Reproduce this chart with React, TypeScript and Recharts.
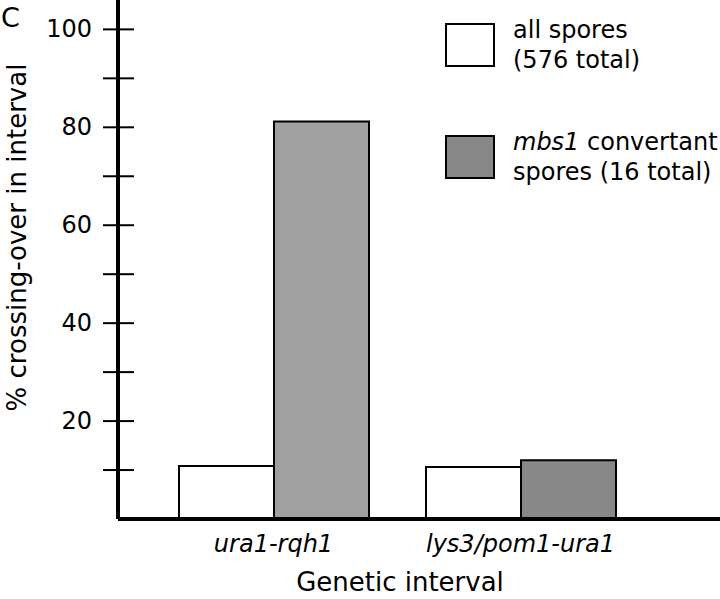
import React from "react";
import { BarChart, Bar, XAxis, YAxis, Cell } from "recharts";

const intervals = ["ura1-rqh1", "lys3/pom1-ura1"];
const allSpores = [10.8, 10.6];
const mbs1Spores = [81.2, 12.0];
const mbs1Fills = ["#a0a0a0", "#888888"];
const yTicks = [10, 20, 30, 40, 50, 60, 70, 80, 90, 100];

const data = intervals.map((name, i) => ({
  name,
  all: allSpores[i],
  mbs1: mbs1Spores[i],
}));

const FONT = "'DejaVu Sans', Verdana, sans-serif";

function YTick(props: any) {
  const { x, y, payload } = props;
  const v = payload.value as number;
  return (
    <g>
      <line x1={x - 15} x2={x + 16} y1={y} y2={y} stroke="#000" strokeWidth={2} />
      {v % 20 === 0 && (
        <text
          x={x - 26}
          y={y}
          textAnchor="end"
          dominantBaseline="central"
          fontSize={24}
          fill="#000"
          fontFamily={FONT}
        >
          {v}
        </text>
      )}
    </g>
  );
}

function YLabel(props: any) {
  const { viewBox } = props;
  const cx = viewBox.x + 17;
  const cy = viewBox.y + viewBox.height / 2 - 22;
  return (
    <text
      x={cx}
      y={cy}
      transform={`rotate(-90 ${cx} ${cy})`}
      textAnchor="middle"
      dominantBaseline="central"
      fontSize={26}
      fill="#000"
      fontFamily={FONT}
    >
      % crossing-over in interval
    </text>
  );
}

function XLabel(props: any) {
  const { viewBox } = props;
  const cx = viewBox.x + viewBox.width / 2 - 19;
  const cy = viewBox.y + viewBox.height - 8;
  return (
    <text x={cx} y={cy} textAnchor="middle" fontSize={26} fill="#000" fontFamily={FONT}>
      Genetic interval
    </text>
  );
}

function LegendBox() {
  const box = (fill: string) => ({
    width: 50,
    height: 44,
    background: fill,
    border: "2px solid #000",
    boxSizing: "border-box" as const,
    flex: "none",
  });
  const text = {
    fontSize: 24,
    lineHeight: "30px",
    fontFamily: FONT,
    color: "#000",
    marginLeft: 18,
    whiteSpace: "nowrap" as const,
  };
  return (
    <div style={{ position: "absolute", left: 445, top: 15 }}>
      <div style={{ display: "flex", alignItems: "center" }}>
        <div style={box("#ffffff")} />
        <div style={text}>
          all spores
          <br />
          (576 total)
        </div>
      </div>
      <div style={{ display: "flex", alignItems: "center", marginTop: 52 }}>
        <div style={box("#888888")} />
        <div style={text}>
          <i>mbs1</i> convertant
          <br />
          spores (16 total)
        </div>
      </div>
    </div>
  );
}

export default function App() {
  return (
    <div style={{ position: "absolute", left: 0, top: 0, width: 720, height: 599, background: "#fff" }}>
      <BarChart
        width={720}
        height={599}
        data={data}
        margin={{ top: 0, right: 0, bottom: 0, left: 0 }}
        barGap={0}
        barSize={95}
        style={{ fontFamily: FONT }}
      >
        <XAxis
          dataKey="name"
          height={80}
          interval={0}
          padding={{ left: 32, right: 76 }}
          axisLine={{ stroke: "#000", strokeWidth: 4 }}
          tickLine={false}
          tickMargin={10}
          tick={{ fontSize: 24, fill: "#000", fontStyle: "italic", fontFamily: FONT }}
          label={<XLabel />}
        />
        <YAxis
          width={118}
          domain={[0, 106]}
          ticks={yTicks}
          interval={0}
          axisLine={{ stroke: "#000", strokeWidth: 4 }}
          tickLine={false}
          tickSize={0}
          tickMargin={0}
          tick={<YTick />}
          label={<YLabel />}
        />
        <Bar dataKey="all" fill="#ffffff" stroke="#000" strokeWidth={2} isAnimationActive={false} />
        <Bar dataKey="mbs1" stroke="#000" strokeWidth={2} isAnimationActive={false}>
          {data.map((d, i) => (
            <Cell key={d.name} fill={mbs1Fills[i]} />
          ))}
        </Bar>
      </BarChart>
      <div
        style={{
          position: "absolute",
          left: 1,
          top: 4,
          fontSize: 27,
          fontFamily: FONT,
          lineHeight: "28px",
          color: "#000",
        }}
      >
        C
      </div>
      <LegendBox />
    </div>
  );
}
